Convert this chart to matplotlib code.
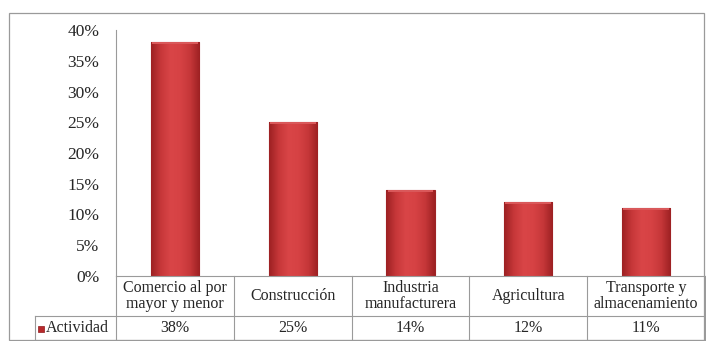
import numpy as np
import matplotlib
matplotlib.use("Agg")
import matplotlib.pyplot as plt
from matplotlib.colors import LinearSegmentedColormap
from matplotlib.patches import Rectangle
from matplotlib.ticker import PercentFormatter

categories = ["Comercio al por\nmayor y menor", "Construcción", "Industria\nmanufacturera",
              "Agricultura", "Transporte y\nalmacenamiento"]
values = [0.38, 0.25, 0.14, 0.12, 0.11]
value_labels = ["38%", "25%", "14%", "12%", "11%"]
series_name = "Actividad"
yticks = [0, 0.05, 0.10, 0.15, 0.20, 0.25, 0.30, 0.35, 0.40]

plt.rcParams["font.family"] = ["Liberation Serif", "DejaVu Serif"]
FS = 11.5
TFS = 12.5
GRID = "#9a9a9a"
TXT = "#262626"

W, H = 706, 341
fig = plt.figure(figsize=(W / 100, H / 100), dpi=100)

# plot area in pixel geometry
left_px, right_px, top_px, zero_px = 116, 705, 30, 276
ax = fig.add_axes([left_px / W, (H - zero_px) / H, (right_px - left_px) / W, (zero_px - top_px) / H])

n = len(categories)
x = np.arange(n)

bars = ax.bar(x, values, width=0.41, color="#c83a3c", edgecolor="#9e2426", linewidth=0.8, zorder=2)

# bevelled shading across each bar
cmap = LinearSegmentedColormap.from_list("bev", ["#9c2022", "#c63739", "#d94547", "#d64244", "#c63739", "#9c2022"])
grad = np.linspace(0, 1, 256).reshape(1, -1)
for b in bars:
    x0, w, h = b.get_x(), b.get_width(), b.get_height()
    im = ax.imshow(grad, cmap=cmap, aspect="auto", extent=[x0, x0 + w, 0, h], zorder=2.5,
                   interpolation="bicubic")
    im.set_clip_path(b)
    ax.add_patch(Rectangle((x0 + 0.01, h - 0.003), w - 0.02, 0.003, facecolor="#d9585a",
                           edgecolor="none", zorder=2.6))
ax.set_xlim(-0.5, n - 0.5)
ax.set_ylim(0, 0.40)

ax.set_yticks(yticks)
ax.yaxis.set_major_formatter(PercentFormatter(1.0, decimals=0))
ax.tick_params(axis="y", length=0, pad=12, labelsize=TFS, labelcolor=TXT)
ax.set_xticks([])
for s in ["top", "right", "bottom"]:
    ax.spines[s].set_visible(False)
ax.spines["left"].set_color(GRID)
ax.spines["left"].set_linewidth(0.8)

# data table below the plot area
px_y = 0.40 / (zero_px - top_px)       # data units per pixel vertically
row1 = -(316 - zero_px) * px_y
row2 = -(340 - zero_px) * px_y
leg_left = (35 - left_px) / ((right_px - left_px) / n) - 0.5
kw = dict(color=GRID, lw=0.8, clip_on=False, zorder=3)
ax.plot([-0.5, n - 0.5], [0, 0], **kw)
ax.plot([leg_left, n - 0.5], [row1, row1], **kw)
ax.plot([leg_left, n - 0.5], [row2, row2], **kw)
ax.plot([leg_left, leg_left], [row1, row2], **kw)
for b in np.arange(-0.5, n, 1.0):
    ax.plot([b, b], [0, row2], **kw)

for i in range(n):
    ax.text(x[i], row1 / 2, categories[i], ha="center", va="center", fontsize=FS,
            color=TXT, linespacing=0.95, clip_on=False)
    ax.text(x[i], (row1 + row2) / 2, value_labels[i], ha="center", va="center", fontsize=FS,
            color=TXT, clip_on=False)

# legend key square and series name in the table's first column
fig.add_artist(Rectangle((38 / W, (H - 332) / H), 6 / W, 6 / H, transform=fig.transFigure,
                         facecolor="#b8292b", edgecolor="#8e1a1c", lw=0.5))
fig.text(46 / W, (H - 328) / H, series_name, ha="left", va="center", fontsize=FS, color=TXT)

# chart frame
fig.add_artist(Rectangle((9 / W, 1 / H), (704 - 9) / W, (H - 13 - 1) / H, transform=fig.transFigure,
                         fill=False, edgecolor=GRID, lw=0.9))

fig.savefig("out.png", dpi=100, facecolor="white")
